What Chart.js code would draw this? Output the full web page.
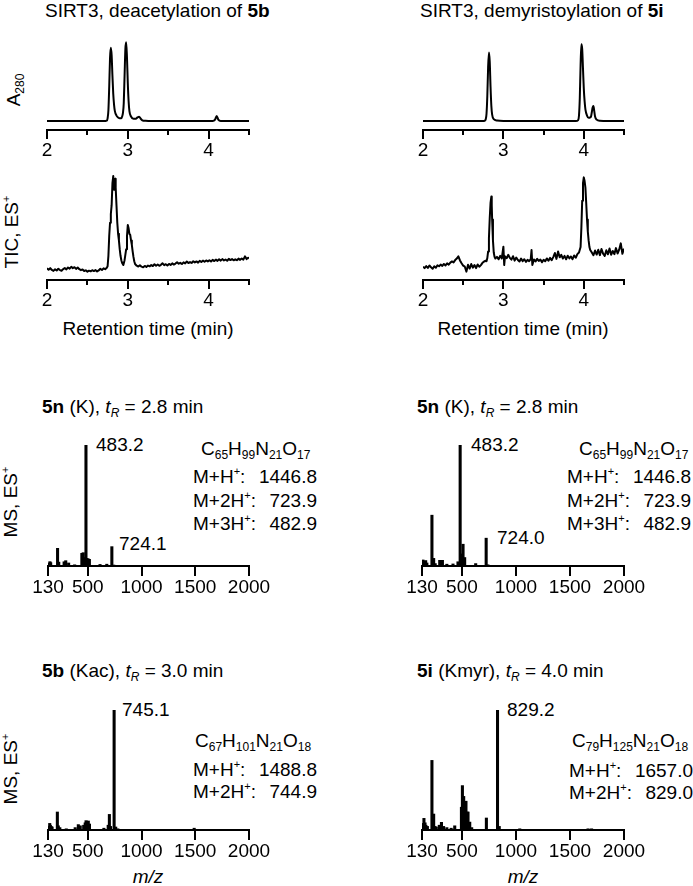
<!DOCTYPE html>
<html>
<head>
<meta charset="utf-8">
<script src="https://cdn.jsdelivr.net/npm/chart.js@4.4.1/dist/chart.umd.min.js"></script>
<style>
  body { margin: 0; background: #fff; }
  #fig { position: relative; width: 693px; height: 886px; overflow: hidden; background: #fff;
         font-family: "Liberation Sans", Arial, Helvetica, sans-serif; font-size: 19px; color: #000; }
  #fig canvas { position: absolute; }
  .t { position: absolute; white-space: nowrap; line-height: 19px; }
  .rot { transform: translate(-50%, -50%) rotate(-90deg); }
  .ctr { transform: translateX(-50%); }
  .t sub, .t sup { position: relative; vertical-align: baseline; line-height: 0; font-size: 12px; }
  .t sub { top: 4px; }
  .t sup { top: -8px; font-size: 11px; }
  .ms { display: flex; justify-content: space-between; }
</style>
</head>
<body>
<div id="fig">
  <div class="t" style="left:45px;top:0.6px">SIRT3, deacetylation of <b>5b</b></div>
  <div class="t" style="left:420px;top:0.6px">SIRT3, demyristoylation of <b>5i</b></div>

  <div class="t rot" style="left:13px;top:90px">A<sub>280</sub></div>
  <div class="t rot" style="left:11px;top:232px">TIC, ES<sup>+</sup></div>
  <div class="t ctr" style="left:148px;top:319px">Retention time (min)</div>
  <div class="t ctr" style="left:523px;top:319px">Retention time (min)</div>

  <!-- middle row -->
  <div class="t" style="left:42px;top:397px"><b>5n</b> (K), <i>t<sub>R</sub></i> = 2.8 min</div>
  <div class="t" style="left:417px;top:397px"><b>5n</b> (K), <i>t<sub>R</sub></i> = 2.8 min</div>
  <div class="t rot" style="left:10px;top:502px">MS, ES<sup>+</sup></div>
  <div class="t" style="left:96px;top:434.6px">483.2</div>
  <div class="t" style="left:119px;top:534px">724.1</div>
  <div class="t" style="left:471px;top:434.6px">483.2</div>
  <div class="t" style="left:497px;top:528px">724.0</div>

  <div class="t" style="left:201px;top:439px">C<sub>65</sub>H<sub>99</sub>N<sub>21</sub>O<sub>17</sub></div>
  <div class="t ms" style="left:193px;top:467px;width:124px"><span>M+H<sup>+</sup>:</span><span>1446.8</span></div>
  <div class="t ms" style="left:193px;top:490.6px;width:124px"><span>M+2H<sup>+</sup>:</span><span>723.9</span></div>
  <div class="t ms" style="left:193px;top:514px;width:124px"><span>M+3H<sup>+</sup>:</span><span>482.9</span></div>

  <div class="t" style="left:579px;top:439px">C<sub>65</sub>H<sub>99</sub>N<sub>21</sub>O<sub>17</sub></div>
  <div class="t ms" style="left:567px;top:467px;width:124px"><span>M+H<sup>+</sup>:</span><span>1446.8</span></div>
  <div class="t ms" style="left:567px;top:490.6px;width:124px"><span>M+2H<sup>+</sup>:</span><span>723.9</span></div>
  <div class="t ms" style="left:567px;top:514px;width:124px"><span>M+3H<sup>+</sup>:</span><span>482.9</span></div>

  <!-- bottom row -->
  <div class="t" style="left:42px;top:660.6px"><b>5b</b> (Kac), <i>t<sub>R</sub></i> = 3.0 min</div>
  <div class="t" style="left:417px;top:660.6px"><b>5i</b> (Kmyr), <i>t<sub>R</sub></i> = 4.0 min</div>
  <div class="t rot" style="left:10px;top:769px">MS, ES<sup>+</sup></div>
  <div class="t" style="left:122px;top:700px">745.1</div>
  <div class="t" style="left:507px;top:700px">829.2</div>

  <div class="t" style="left:195px;top:730.6px">C<sub>67</sub>H<sub>101</sub>N<sub>21</sub>O<sub>18</sub></div>
  <div class="t ms" style="left:193px;top:759.6px;width:124px"><span>M+H<sup>+</sup>:</span><span>1488.8</span></div>
  <div class="t ms" style="left:193px;top:782.2px;width:124px"><span>M+2H<sup>+</sup>:</span><span>744.9</span></div>

  <div class="t" style="left:572px;top:731px">C<sub>79</sub>H<sub>125</sub>N<sub>21</sub>O<sub>18</sub></div>
  <div class="t ms" style="left:569px;top:760.5px;width:124px"><span>M+H<sup>+</sup>:</span><span>1657.0</span></div>
  <div class="t ms" style="left:569px;top:783px;width:124px"><span>M+2H<sup>+</sup>:</span><span>829.0</span></div>

  <div class="t ctr" style="left:148px;top:867px"><i>m/z</i></div>
  <div class="t ctr" style="left:523px;top:867px"><i>m/z</i></div>
</div>

<script>
// retention time axis (min) and m/z axis
const rtMajor = [2, 3, 4];
const rtMinor = [2.5, 3.5, 4.5];
const rtTicks = [2, 2.5, 3, 3.5, 4, 4.5];
const mzTicks = [130, 500, 1000, 1500, 2000];

// A280 traces [time, absorbance]
const a280Deacetyl = [
  [2.00,0],[2.70,0],[2.74,0.5],[2.75,3],[2.76,12],[2.77,38],[2.78,70],[2.79,81.4],[2.80,73],[2.81,50],
  [2.82,30],[2.83,18],[2.84,11],[2.86,6],[2.88,4],[2.90,3],[2.92,3],[2.93,5],[2.94,9],[2.95,20],
  [2.96,50],[2.97,80],[2.98,87.4],[2.99,70],[3.00,42],[3.01,22],[3.02,11],[3.04,5],[3.07,2.5],[3.10,2.5],
  [3.12,4],[3.14,4.8],[3.16,2.5],[3.18,0.8],[3.22,0.2],[3.30,0],[4.05,0],[4.08,1.5],[4.10,5.6],[4.12,1.5],
  [4.15,0],[4.50,0]
];
const a280Demyr = [
  [2.00,0],[2.74,0],[2.77,0.5],[2.78,2],[2.79,8],[2.80,28],[2.81,60],[2.82,76],[2.83,66],[2.84,38],
  [2.85,17],[2.86,7],[2.88,2],[2.92,0.5],[3.00,0],[3.90,0],[3.93,1],[3.94,6],[3.95,25],[3.96,62],
  [3.97,85.2],[3.98,80],[3.99,58],[4.00,36],[4.01,22],[4.02,13],[4.04,6],[4.06,3.5],[4.08,4],[4.09,5],
  [4.10,10],[4.11,15],[4.12,16.7],[4.13,11],[4.14,5],[4.16,1.5],[4.20,0.2],[4.30,0],[4.50,0]
];

// TIC traces [time, counts %]
const ticDeacetyl = [
  [2.00,10.6],[2.02,9.4],[2.04,10.8],[2.06,9.1],[2.08,8.3],[2.10,9.7],[2.12,8.6],[2.14,10.2],[2.16,9.0],[2.18,8.4],
  [2.20,9.9],[2.22,10.9],[2.24,9.6],[2.26,11.4],[2.28,10.3],[2.30,12.0],[2.32,10.8],[2.34,11.6],[2.36,10.1],[2.38,11.3],
  [2.40,9.8],[2.42,8.9],[2.44,9.6],[2.46,8.2],[2.48,8.8],[2.50,7.6],[2.52,8.5],[2.54,7.9],[2.56,8.9],[2.58,8.1],
  [2.60,9.0],[2.62,7.8],[2.64,8.7],[2.66,10.2],[2.68,9.1],[2.70,10.6],[2.72,9.8],[2.74,11.2],[2.75,12.5],[2.76,22],
  [2.77,40],[2.78,52],[2.79,60],[2.80,68],[2.81,88],[2.82,94.5],[2.83,82],[2.84,88],[2.845,92],[2.85,84],
  [2.86,68],[2.87,52],[2.88,42],[2.89,36],[2.90,28],[2.91,22],[2.92,18],[2.93,15.5],[2.945,13.6],[2.96,18],
  [2.97,23],[2.98,28],[2.99,40],[3.00,50],[3.01,47],[3.02,42],[3.03,41],[3.04,36],[3.05,32],[3.06,26],
  [3.07,21],[3.08,17],[3.09,14.5],[3.11,13],[3.13,12.2],[3.15,13.4],[3.17,12.1],[3.19,11.5],[3.21,12.8],[3.23,11.9],
  [3.25,13.1],[3.27,12.4],[3.29,13.6],[3.31,12.7],[3.33,14.3],[3.35,13.0],[3.37,14.1],[3.39,12.9],[3.41,13.8],[3.43,15.2],
  [3.45,13.5],[3.47,14.4],[3.49,13.2],[3.51,14.6],[3.53,13.7],[3.55,15.1],[3.57,14.0],[3.59,14.9],[3.61,16.2],[3.63,14.8],
  [3.65,15.6],[3.67,14.5],[3.69,16.0],[3.71,15.1],[3.73,16.8],[3.75,15.4],[3.77,16.3],[3.79,15.5],[3.81,17.1],[3.83,16.0],
  [3.85,16.9],[3.87,15.8],[3.89,17.4],[3.91,16.3],[3.93,17.6],[3.95,16.6],[3.97,17.8],[3.99,16.9],[4.01,18.0],[4.03,16.8],
  [4.05,18.3],[4.07,17.2],[4.09,18.5],[4.11,17.4],[4.13,18.8],[4.15,17.6],[4.17,19.0],[4.19,17.8],[4.21,18.6],[4.23,17.5],
  [4.25,19.2],[4.27,18.1],[4.29,19.0],[4.31,17.9],[4.33,18.8],[4.35,18.0],[4.37,19.4],[4.39,18.3],[4.41,19.6],[4.43,18.5],
  [4.45,21.5],[4.47,19.0],[4.49,20.2],[4.50,19.5]
];
const ticDemyr = [
  [2.00,12.1],[2.02,10.8],[2.04,12.6],[2.06,11.0],[2.08,13.2],[2.10,11.5],[2.12,10.2],[2.14,12.4],[2.16,11.1],[2.18,13.4],
  [2.20,12.5],[2.22,14.0],[2.24,12.8],[2.26,14.6],[2.28,13.2],[2.30,15.1],[2.32,14.0],[2.34,15.8],[2.36,16.9],[2.38,16.0],
  [2.40,18.1],[2.42,19.5],[2.44,21.5],[2.46,17.8],[2.48,15.2],[2.50,13.0],[2.52,12.1],[2.54,7.6],[2.56,13.8],[2.58,10.4],
  [2.60,14.5],[2.62,11.2],[2.64,13.6],[2.66,10.8],[2.68,14.1],[2.70,12.0],[2.72,13.5],[2.74,15.6],[2.76,16.8],[2.78,17.5],
  [2.79,17],[2.80,20],[2.81,26],[2.82,38],[2.83,56],[2.84,70],[2.85,75.8],[2.855,68],[2.86,55],[2.87,36],
  [2.88,25],[2.89,21],[2.90,19.5],[2.92,21.0],[2.94,18.8],[2.96,22.0],[2.98,19.6],[3.00,30.3],[3.01,13.6],[3.02,21.5],
  [3.04,19.8],[3.06,22.9],[3.08,20.1],[3.10,18.5],[3.12,21.6],[3.14,17.6],[3.16,20.4],[3.18,18.2],[3.20,16.8],[3.22,19.5],
  [3.24,17.1],[3.26,18.9],[3.28,16.5],[3.30,18.3],[3.32,17.2],[3.34,19.0],[3.35,27.3],[3.36,13.6],[3.38,18.7],[3.40,16.9],
  [3.42,19.2],[3.44,17.3],[3.46,18.6],[3.48,16.1],[3.50,18.4],[3.52,17.0],[3.54,19.6],[3.56,17.5],[3.58,20.1],[3.60,18.0],
  [3.62,20.8],[3.64,24.5],[3.66,19.2],[3.68,26.0],[3.70,20.6],[3.72,22.8],[3.74,19.5],[3.76,21.9],[3.78,18.8],[3.80,22.1],
  [3.82,19.7],[3.84,21.4],[3.86,18.9],[3.88,22.3],[3.90,20.2],[3.92,23.5],[3.94,25.0],[3.96,30],[3.97,48],[3.98,72],
  [3.99,88],[4.00,93.3],[4.01,90],[4.02,84],[4.03,70],[4.04,55],[4.05,44],[4.06,36],[4.07,30],[4.08,27.3],
  [4.10,25.0],[4.12,22.5],[4.14,26.8],[4.16,23.1],[4.18,27.5],[4.20,22.6],[4.22,28.2],[4.24,24.0],[4.26,21.8],[4.28,27.0],
  [4.30,23.4],[4.32,28.6],[4.34,22.9],[4.36,26.4],[4.38,23.5],[4.40,29.0],[4.42,24.1],[4.44,27.6],[4.46,33.3],[4.48,23.8],
  [4.50,28.5]
];

// MS spectra [m/z, relative intensity %]
const ms5nDeacetyl = [
  [140,2.5],[148,3.6],[155,2.8],[219,14.6],[230,3.2],[280,3.5],[295,4.4],[322,2.5],[378,1],[445,10.5],
  [458,11],[470,7],[483.2,100],[492,6.3],[503,6.0],[515,5.5],[614,1.3],[677,1.5],[724.1,16],[742,0.8]
];
const ms5nDemyr = [
  [139,5],[147,4],[155,3.5],[164,4.5],[175,2.5],[222,42],[238,6.3],[252,2],[294,4.7],[305,3.5],
  [319,4.7],[360,1.5],[417,1.7],[463,3.5],[483.2,100],[500,10],[510,18],[525,7],[627,2],[724.0,23],[740,1]
];
const ms5bKac = [
  [140,3],[146,5.5],[152,4],[160,3],[168,2.5],[217,15],[226,3.5],[240,2],[300,1],[383,2],
  [412,4.5],[430,3.5],[462,4],[476,6],[484,7.8],[492,7],[505,7.5],[516,5],[650,1.5],[690,4],
  [701,13],[712,3],[745.1,100],[760,2.5],[780,1],[1490,1.5]
];
const ms5iKmyr = [
  [139,5.5],[148,9.7],[158,6],[166,4],[180,3],[222,58],[238,13.3],[250,3],[262,2.5],[290,4],
  [310,6.4],[330,3],[360,2],[400,1.5],[433,3.5],[495,19],[504,37],[516,28],[528,22],[537,24],
  [548,15],[556,15],[572,6.6],[590,2],[726,10],[829.2,100],[845,3],[1035,1],[1667,1],[1700,1]
];

const PAD = 26;
const AXIS_H = 40;
const fig = document.getElementById('fig');

Chart.defaults.font.family = '"Liberation Sans", Arial, Helvetica, sans-serif';
Chart.defaults.font.size = 19;
Chart.defaults.color = '#000';

// short unlabeled ticks at the half-minute marks
const minorTicks = {
  id: 'minorTicks',
  afterDraw(chart, args, opts) {
    if (!opts.values) return;
    const sx = chart.scales.x;
    const ctx = chart.ctx;
    ctx.save();
    ctx.strokeStyle = '#000';
    ctx.lineWidth = 2;
    opts.values.forEach(v => {
      const px = Math.round(sx.getPixelForValue(v));
      ctx.beginPath();
      ctx.moveTo(px, sx.top);
      ctx.lineTo(px, sx.top + opts.len);
      ctx.stroke();
    });
    ctx.restore();
  }
};

function addCanvas(box) {
  const c = document.createElement('canvas');
  const w = box.w + PAD * 2;
  const h = box.h + AXIS_H;
  c.width = w; c.height = h;
  c.style.width = w + 'px'; c.style.height = h + 'px';
  c.style.left = (box.x - PAD) + 'px';
  c.style.top = box.y + 'px';
  fig.appendChild(c);
  return c;
}

function xAxis(min, max, ticks, tickLen, labelFn, tickColor) {
  return {
    type: 'linear', min, max, offset: false,
    afterBuildTicks: ax => { ax.ticks = ticks.map(v => ({ value: v })); },
    afterFit: ax => { ax.height = AXIS_H; },
    grid: { drawOnChartArea: false, drawTicks: true, tickLength: tickLen, tickWidth: 2, lineWidth: 2, tickColor, offset: false },
    border: { display: true, color: '#000', width: 2 },
    ticks: { autoSkip: false, maxRotation: 0, minRotation: 0, padding: 0, color: '#000', callback: labelFn }
  };
}

function chromatogram(box, trace, yMin, yMax, smooth) {
  return new Chart(addCanvas(box), {
    type: 'line',
    data: {
      datasets: [{
        data: trace.map(([x, y]) => ({ x, y })),
        borderColor: '#000',
        borderWidth: 2,
        pointRadius: 0,
        fill: false,
        tension: 0,
        cubicInterpolationMode: smooth ? 'monotone' : 'default',
        borderJoinStyle: 'round'
      }]
    },
    options: {
      responsive: false, animation: false, devicePixelRatio: 1, events: [],
      layout: { padding: { left: PAD, right: PAD, top: 0, bottom: 0 } },
      plugins: { legend: { display: false }, tooltip: { enabled: false }, minorTicks: { values: rtMinor, len: 5 } },
      scales: {
        x: xAxis(2, 4.5, rtTicks, 9,
          v => rtMajor.includes(v) ? String(v) : '',
          c => rtMajor.includes(c.tick && c.tick.value) ? '#000' : 'rgba(0,0,0,0)'),
        y: { type: 'linear', display: false, min: yMin, max: yMax }
      }
    },
    plugins: [minorTicks]
  });
}

function spectrum(box, peaks) {
  return new Chart(addCanvas(box), {
    type: 'bar',
    data: {
      datasets: [{
        data: peaks.map(([x, y]) => ({ x, y })),
        backgroundColor: '#000',
        borderWidth: 0,
        barThickness: 2.4
      }]
    },
    options: {
      responsive: false, animation: false, devicePixelRatio: 1, events: [],
      layout: { padding: { left: PAD, right: PAD, top: 0, bottom: 0 } },
      plugins: { legend: { display: false }, tooltip: { enabled: false } },
      scales: {
        x: xAxis(130, 2000, mzTicks, 10, v => String(v), '#000'),
        y: { type: 'linear', display: false, min: 0, max: 100 }
      }
    }
  });
}

chromatogram({ x: 47, y: 40, w: 202, h: 90 }, a280Deacetyl, -10, 90, true);
chromatogram({ x: 423, y: 40, w: 201, h: 90 }, a280Demyr, -10, 90, true);
chromatogram({ x: 47, y: 170, w: 202, h: 110 }, ticDeacetyl, 0, 100, false);
chromatogram({ x: 423, y: 170, w: 201, h: 110 }, ticDemyr, 0, 100, false);

spectrum({ x: 48, y: 445, w: 201, h: 121 }, ms5nDeacetyl);
spectrum({ x: 422, y: 445, w: 202, h: 121 }, ms5nDemyr);
spectrum({ x: 48, y: 710, w: 201, h: 120 }, ms5bKac);
spectrum({ x: 422, y: 710, w: 202, h: 120 }, ms5iKmyr);
</script>
</body>
</html>
